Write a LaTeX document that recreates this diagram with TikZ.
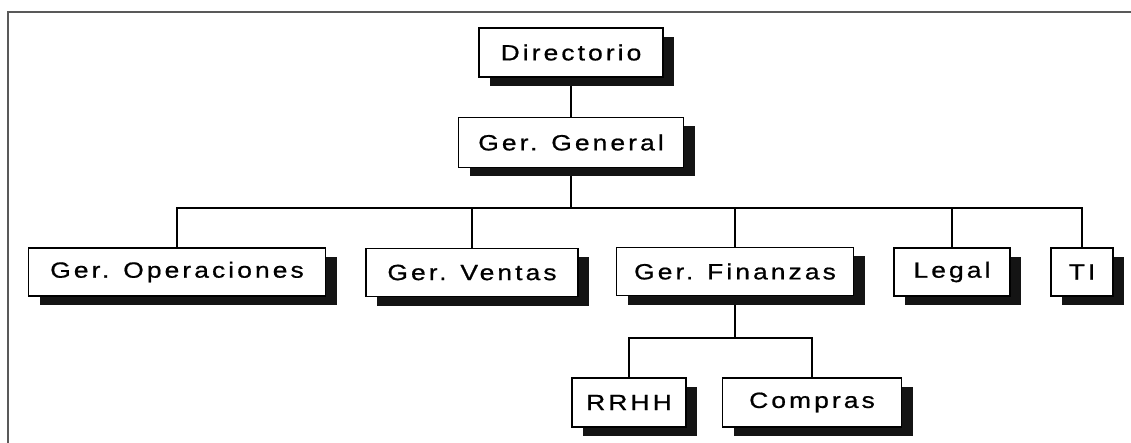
\documentclass[tikz,border=0pt]{standalone}
\usepackage{fontspec}
\setmainfont{Liberation Sans}[LetterSpace=14, FakeStretch=1.2, FakeBold=0.8]
\usetikzlibrary{shadows}
\pgfdeclarelayer{bg}
\pgfsetlayers{bg,main}
\begin{document}
\begin{tikzpicture}[x=1pt,y=-1pt,
  unit/.style={draw=black, line width=1.3pt, fill=white, inner sep=0pt,
    font=\fontsize{22}{24}\selectfont,
    general shadow={fill=black!92, shadow xshift=11pt, shadow yshift=-9pt}},
  link/.style={draw=black, line width=1.3pt},
  frame/.style={draw=black!65, line width=1.4pt}]
\useasboundingbox (0,0) rectangle (1131,443);
% page frame: top and left rules
\draw[frame] (8,443) -- (8,12) -- (1131,12);
% units
\node[unit, minimum width=184pt, minimum height=49pt] (dir) at (571,52.5) {Directorio};
\node[unit, minimum width=225pt, minimum height=50pt] (gg) at (571,142.5) {Ger. General};
\node[unit, minimum width=297pt, minimum height=48pt] (ops) at (177,272) {Ger. Operaciones};
\node[unit, minimum width=212pt, minimum height=48pt] (ven) at (472,272.5) {Ger. Ventas};
\node[unit, minimum width=237pt, minimum height=48pt] (fin) at (735,271.5) {Ger. Finanzas};
\node[unit, minimum width=116pt, minimum height=48pt] (leg) at (952,272) {Legal};
\node[unit, minimum width=62pt, minimum height=48pt] (ti) at (1082,272) {TI};
\node[unit, minimum width=114pt, minimum height=49pt] (rrhh) at (629,402.5) {RRHH};
\node[unit, minimum width=179pt, minimum height=49pt] (comp) at (812,402.5) {Compras};
% reporting lines
\coordinate (bus) at (0,208);
\coordinate (sub) at (0,338);
\begin{pgfonlayer}{bg}
\draw[link] (dir.south) -- (gg.north);
\draw[link] (gg.south) -- (gg.south |- bus);
\draw[link] (ops.north) -- (ops.north |- bus) -| (ti.north);
\draw[link] (ven.north) -- (ven.north |- bus);
\draw[link] (fin.north) -- (fin.north |- bus);
\draw[link] (leg.north) -- (leg.north |- bus);
\draw[link] (fin.south) -- (fin.south |- sub);
\draw[link] (rrhh.north) -- (rrhh.north |- sub) -| (comp.north);
\end{pgfonlayer}
\end{tikzpicture}
\end{document}
